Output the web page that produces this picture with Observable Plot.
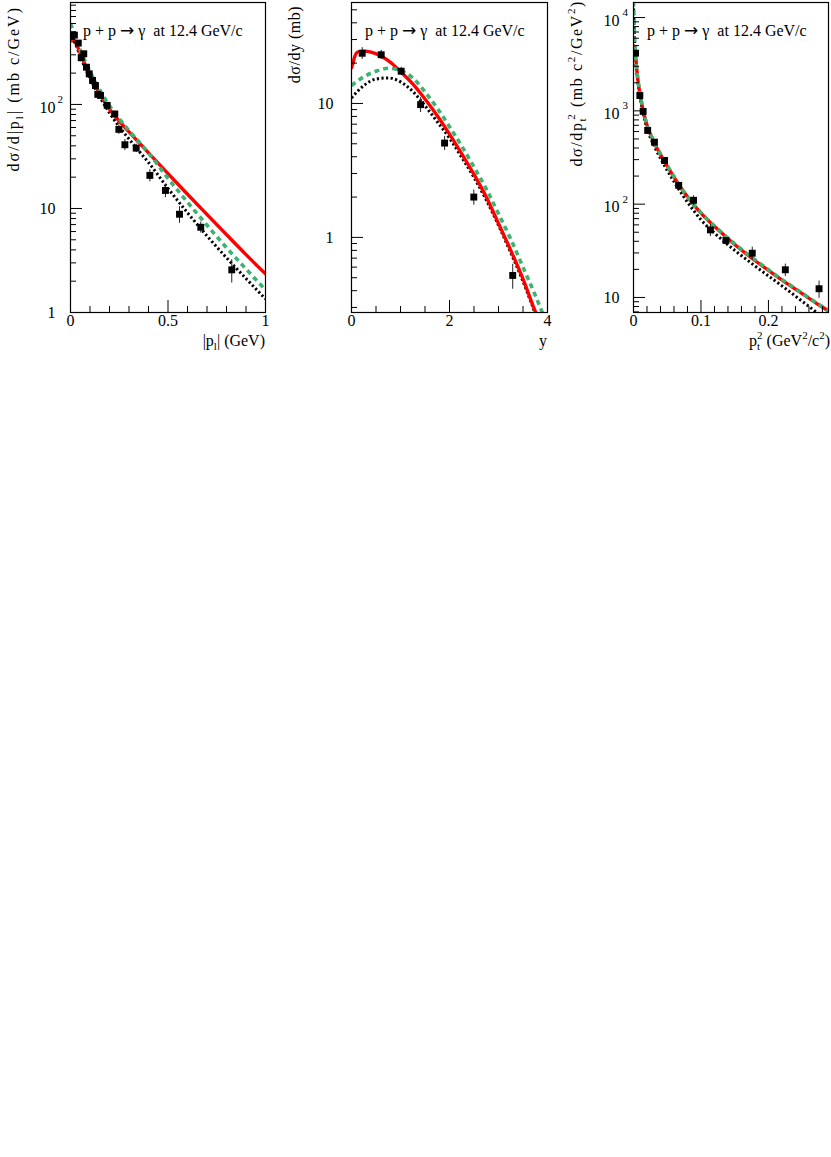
<!DOCTYPE html>
<html><head><meta charset="utf-8">
<script src="https://cdn.jsdelivr.net/npm/d3@7"></script>
<script src="https://cdn.jsdelivr.net/npm/@observablehq/plot@0.6"></script>
<style>
html,body{margin:0;padding:0;background:#fff;}
#wrap{position:relative;width:831px;height:1157px;background:#fff;}
.panel{position:absolute;top:0;width:277px;height:360px;}
</style></head><body><div id="wrap"></div>
<script>
// ---------- shared annotation (pieces: text, arrow, text) ----------
const annotationParts = ["p + p ", "\u2192", " \u03b3\u00a0 at 12.4 GeV/c"];

// ---------- panel 1 : dσ/d|p_l| ----------
const p1X   = [0.005,0.02,0.04,0.055,0.068,0.082,0.096,0.113,0.128,0.14,0.154,0.188,0.227,0.248,0.279,0.337,0.407,0.487,0.559,0.668,0.827];
const p1Y   = [451,464,389,281,307,228,197,170,152,125,122,98,81,57.6,41,38,20.8,14.9,8.8,6.6,2.57];
const p1Err = [20,20,18,14,15,11,10,9,8,9,8,6,5,6,5,3.5,2.8,2.2,1.6,0.8,0.65];
const p1CurveX = [0,0.025,0.05,0.1,0.15,0.2,0.25,0.3,0.35,0.4,0.5,0.6,0.7,0.8,0.9,1.0];
const p1Red    = [445,400,310,190,126,90,69,54.5,43.2,34.3,21.6,13.7,8.75,5.6,3.6,2.35];
const p1Green  = [600,450,335,207,138,97,73,56,44,34.2,19.5,11.5,6.9,4.2,2.62,1.65];
const p1Black  = [430,385,290,178,118,83,61,46.5,35.8,27.7,15.6,9.1,5.45,3.36,2.12,1.35];
const p1XMajor = [0,0.5,1], p1XText = ["0","0.5","1"];
const p1XMinor = [0.1,0.2,0.3,0.4,0.6,0.7,0.8,0.9];
const p1YMajor = [1,10,100], p1YBase = ["1","10","10"], p1YExp = ["","","2"];
const p1YMinor = [2,3,4,5,6,7,8,9,20,30,40,50,60,70,80,90,200,300,400,500,600,700,800,900];

// ---------- panel 2 : dσ/dy ----------
const p2X   = [0.218,0.606,1.014,1.41,1.9,2.496,3.29];
const p2Y   = [23.7,23.1,17.4,9.8,5.06,2.0,0.52];
const p2Err = [2.4,1.8,1.2,1.25,0.6,0.26,0.11];
const p2RedX   = [0,0.03,0.06,0.1,0.15,0.25,0.4,0.6,0.8,1.0,1.25,1.5,1.75,2.0,2.25,2.5,2.75,3.0,3.25,3.5,3.75,3.85];
const p2RedY   = [18.5,20,22,23.8,24.4,24.6,24.2,22.6,20.2,17.3,14,10.8,8.1,5.9,4.2,2.95,2.0,1.27,0.8,0.49,0.28,0.23];
const p2GreenX = [0,0.25,0.5,0.75,1.0,1.25,1.5,1.75,2.0,2.25,2.5,2.75,3.0,3.25,3.5,3.75,4.0];
const p2GreenY = [13.6,15.8,17.4,18.3,17.6,15.5,12.2,9.2,6.7,4.8,3.35,2.3,1.5,0.97,0.6,0.37,0.22];
const p2BlackX = [0,0.25,0.5,0.75,1.0,1.25,1.5,1.75,2.0,2.25,2.5,2.75,3.0,3.25,3.5,3.75];
const p2BlackY = [11,13.6,15.2,15.5,14.5,12.3,9.6,7.3,5.5,3.95,2.8,1.9,1.23,0.77,0.47,0.27];
const p2XMajor = [0,2,4], p2XText = ["0","2","4"];
const p2XMinor = [0.5,1,1.5,2.5,3,3.5];
const p2YMajor = [1,10], p2YBase = ["1","10"], p2YExp = ["",""];
const p2YMinor = [0.3,0.4,0.5,0.6,0.7,0.8,0.9,2,3,4,5,6,7,8,9,20,30,40,50];

// ---------- panel 3 : dσ/dp_t^2 ----------
const p3X   = [0.003,0.0094,0.0143,0.021,0.031,0.046,0.067,0.089,0.114,0.137,0.176,0.225,0.275];
const p3Y   = [4150,1460,986,617,462,294,159,110,53,40.8,29.8,19.8,12.4];
const p3Err = [160,60,40,25,20,12,8,13,8,3,4.8,3,2.6];
const p3RedX   = [0,0.003,0.006,0.01,0.015,0.02,0.03,0.04,0.05,0.06,0.07,0.08,0.09,0.1,0.125,0.15,0.175,0.2,0.225,0.25,0.275,0.29];
const p3RedY   = [5000,3800,2300,1450,960,700,465,340,255,195,150,120,97,80,53.5,37,26.5,19.5,14.5,11,8.3,7.1];
const p3GreenX = [0,0.001,0.002,0.003,0.006,0.01,0.015,0.02,0.03,0.04,0.05,0.06,0.07,0.08,0.09,0.1,0.125,0.15,0.175,0.2,0.225,0.25,0.275,0.29];
const p3GreenY = [15000,8000,5200,3900,2350,1480,980,715,475,345,260,198,152,121,98,81,54,37.5,27,19.8,14.7,11.1,8.4,7.2];
const p3BlackX = [0,0.001,0.002,0.003,0.006,0.01,0.015,0.02,0.03,0.04,0.05,0.06,0.07,0.08,0.09,0.1,0.125,0.15,0.175,0.2,0.225,0.25,0.275];
const p3BlackY = [14000,7500,5000,3700,2150,1350,890,650,430,310,230,175,134,105,84,68,45.5,32,23.2,17,12.5,9.1,6.6];
const p3XMajor = [0,0.1,0.2], p3XText = ["0","0.1","0.2"];
const p3XMinor = [0.02,0.04,0.06,0.08,0.12,0.14,0.16,0.18,0.22,0.24,0.26,0.28];
const p3YMajor = [10,100,1000,10000], p3YBase = ["10","10","10","10"], p3YExp = ["","2","3","4"];
const p3YMinor = [7,8,9,20,30,40,50,60,70,80,90,200,300,400,500,600,700,800,900,2000,3000,4000,5000,6000,7000,8000,9000];

// ---------- styles ----------
const RED = "#ff0000", GREEN = "#3cb371", BLACK = "#000000";
const FONT = "'Liberation Serif', 'Times New Roman', serif";

const zip = (xs, ys) => xs.map((x, i) => ({x, y: ys[i]}));

function addRich(svg, x, y, parts, {anchor = "start", rotate = 0, size = 16, spacing = 0} = {}) {
  const t = d3.select(svg).append("text")
    .attr("transform", `translate(${x},${y}) rotate(${rotate})`)
    .attr("text-anchor", anchor).attr("font-size", size)
    .attr("font-family", FONT).attr("fill", "black")
    .attr("letter-spacing", spacing);
  let cur = 0;
  for (const [s, kind, dx, font, fsize] of parts) {
    const target = kind === "sub" ? 4 : kind === "sup" ? -7 : 0;
    const ts = t.append("tspan").attr("dy", target - cur).attr("font-size", fsize || (kind ? 11 : size)).text(s);
    if (dx) ts.attr("dx", dx);
    if (font) ts.attr("font-family", font);
    cur = target;
  }
}

function makePanel(cfg) {
  const pts = cfg.px.map((x, i) => ({x, y: cfg.py[i], e: cfg.pe[i]}));
  const yLab = cfg.yMajor.map((v, i) => ({v, base: cfg.yBase[i], exp: cfg.yExp[i]}));
  const xLab = cfg.xMajor.map((v, i) => ({v, t: cfg.xText[i]}));
  const plot = Plot.plot({
    width: 277, height: 360,
    marginLeft: cfg.ml, marginRight: cfg.mr, marginTop: 2, marginBottom: 48,
    style: {fontFamily: FONT, fontSize: "16px", background: "white", color: "black"},
    x: {domain: cfg.xDomain},
    y: {type: "log", domain: cfg.yDomain},
    marks: [
      Plot.line(cfg.black, {x: "x", y: "y", stroke: BLACK, strokeWidth: 3, strokeDasharray: "2.2,2.4", strokeLinecap: "butt", curve: "monotone-x", clip: true}),
      Plot.line(cfg.red, {x: "x", y: "y", stroke: RED, strokeWidth: 3.4, curve: "monotone-x", clip: true}),
      Plot.line(cfg.green, {x: "x", y: "y", stroke: GREEN, strokeWidth: 3.6, strokeDasharray: "5,4", strokeLinecap: "butt", curve: "monotone-x", clip: true}),
      Plot.ruleX(pts, {x: "x", y1: d => d.y - d.e, y2: d => d.y + d.e, stroke: "#222", strokeWidth: 1, clip: true}),
      Plot.dot(pts, {x: "x", y: "y", symbol: "square", r: 3.9, fill: "black", stroke: "none", clip: true}),
      Plot.axisX({ticks: cfg.xMajor, tickSize: -12, tickFormat: () => "", label: null}),
      Plot.axisX({ticks: cfg.xMinor, tickSize: -6, tickFormat: () => "", label: null}),
      Plot.axisY({ticks: cfg.yMajor, tickSize: -12, tickFormat: () => "", label: null}),
      Plot.axisY({ticks: cfg.yMinor, tickSize: -6, tickFormat: () => "", label: null}),
      Plot.text(xLab, {x: "v", text: "t", frameAnchor: "bottom", dy: 13, fontSize: 16, fill: "black"}),
      Plot.text(yLab.filter(d => !d.exp), {y: "v", text: "base", frameAnchor: "left", textAnchor: "end", dx: cfg.yDx, fontSize: 16, fill: "black"}),
      Plot.text(yLab.filter(d => d.exp), {y: "v", text: "base", frameAnchor: "left", textAnchor: "end", dx: cfg.yDx, dy: 3, fontSize: 16, fill: "black"}),
      Plot.text(yLab.filter(d => d.exp), {y: "v", text: "exp", frameAnchor: "left", textAnchor: "start", dx: cfg.supDx, dy: -5, fontSize: 11, fill: "black"}),
      Plot.frame({stroke: "black", strokeWidth: 1.2})
    ]
  });
  addRich(plot, cfg.ml + cfg.annDx, 35.5,
    [[annotationParts[0]], [annotationParts[1], null, 0, "'DejaVu Sans'", 17], [annotationParts[2]]]);
  addRich(plot, cfg.yTitle.x, cfg.yTitle.y, cfg.yTitle.parts, {anchor: "end", rotate: -90, spacing: cfg.yTitle.spacing});
  addRich(plot, cfg.xTitle.x, cfg.xTitle.y, cfg.xTitle.parts, {anchor: "end"});
  const div = document.createElement("div");
  div.className = "panel";
  div.style.left = cfg.left + "px";
  div.appendChild(plot);
  document.getElementById("wrap").appendChild(div);
}

makePanel({
  left: 0, ml: 70, mr: 12, xDomain: [0, 1], yDomain: [1, 955],
  px: p1X, py: p1Y, pe: p1Err,
  red: zip(p1CurveX, p1Red), green: zip(p1CurveX, p1Green), black: zip(p1CurveX, p1Black),
  xMajor: p1XMajor, xText: p1XText, xMinor: p1XMinor,
  yMajor: p1YMajor, yBase: p1YBase, yExp: p1YExp, yMinor: p1YMinor,
  yDx: -15, supDx: -13, annDx: 13,
  yTitle: {x: 19, y: 6, spacing: 2, parts: [["d\u03c3/d|p"], ["l", "sub"], ["| (mb c/GeV)"]]},
  xTitle: {x: 265, y: 346, parts: [["|p"], ["l", "sub"], ["| (GeV)"]]}
});

makePanel({
  left: 277, ml: 74, mr: 7, xDomain: [0, 4], yDomain: [0.275, 56.7],
  px: p2X, py: p2Y, pe: p2Err,
  red: zip(p2RedX, p2RedY), green: zip(p2GreenX, p2GreenY), black: zip(p2BlackX, p2BlackY),
  xMajor: p2XMajor, xText: p2XText, xMinor: p2XMinor,
  yMajor: p2YMajor, yBase: p2YBase, yExp: p2YExp, yMinor: p2YMinor,
  yDx: -18, supDx: -16, annDx: 14,
  yTitle: {x: 23, y: 6, spacing: 0.5, parts: [["d\u03c3/dy (mb)"]]},
  xTitle: {x: 270, y: 346, parts: [["y"]]}
});

makePanel({
  left: 554, ml: 79, mr: 3, xDomain: [0, 0.289], yDomain: [6.9, 14500],
  px: p3X, py: p3Y, pe: p3Err,
  red: zip(p3RedX, p3RedY), green: zip(p3GreenX, p3GreenY), black: zip(p3BlackX, p3BlackY),
  xMajor: p3XMajor, xText: p3XText, xMinor: p3XMinor,
  yMajor: p3YMajor, yBase: p3YBase, yExp: p3YExp, yMinor: p3YMinor,
  yDx: -14, supDx: -11, annDx: 14,
  yTitle: {x: 28, y: 0, spacing: 1.6, parts: [["d\u03c3/dp"], ["t", "sub"], ["2", "sup", -3], [" (mb c"], ["2", "sup"], ["/GeV"], ["2", "sup"], [")"]]},
  xTitle: {x: 276, y: 346, parts: [["p"], ["t", "sub"], ["2", "sup", -3], [" (GeV"], ["2", "sup"], ["/c"], ["2", "sup"], [")"]]}
});
</script></body></html>
